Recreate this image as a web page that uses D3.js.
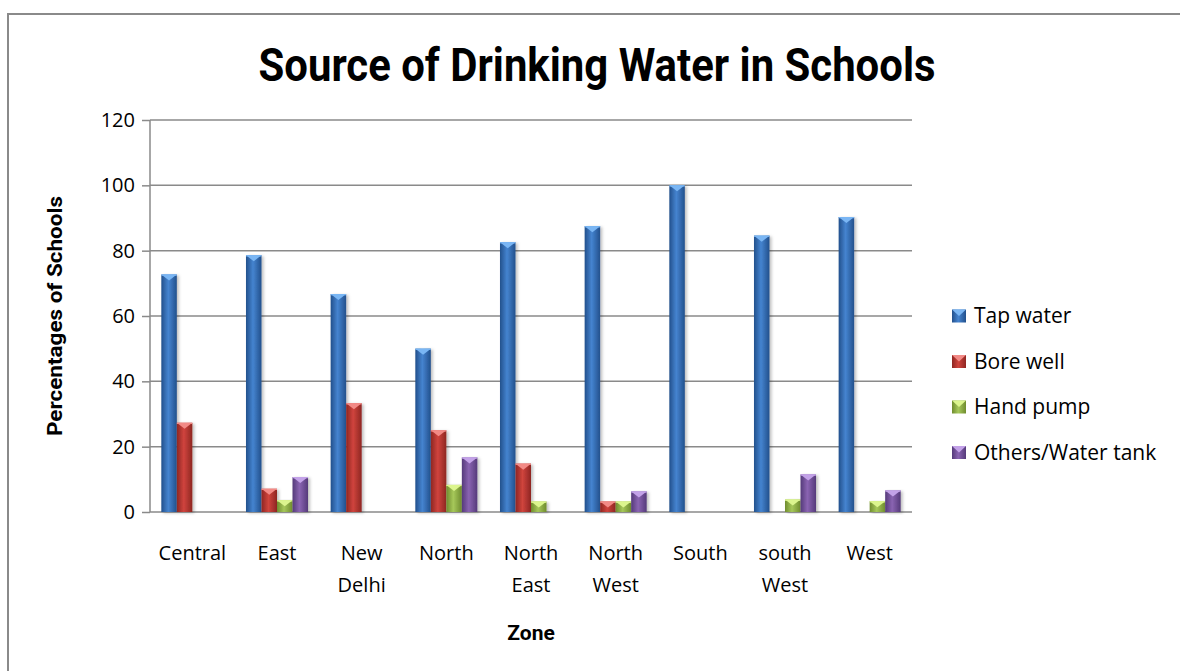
<!DOCTYPE html>
<html>
<head>
<meta charset="utf-8">
<script src="https://cdn.jsdelivr.net/npm/d3@7"></script>
<style>
  body { margin: 0; background: #fff; }
  text { font-family: "Open Sans", sans-serif; fill: #000; }
</style>
</head>
<body>
<svg width="1180" height="671"></svg>
<script>
// chart values
var zones = ["Central", "East", "New Delhi", "North", "North East", "North West", "South", "south West", "West"];
var seriesNames = ["Tap water", "Bore well", "Hand pump", "Others/Water tank"];
var tapWater = [72.7, 78.6, 66.7, 50, 82.6, 87.5, 100, 84.6, 90.3];
var boreWell = [27.3, 7.1, 33.3, 25, 14.8, 3.2, 0, 0, 0];
var handPump = [0, 3.6, 0, 8.3, 3.2, 3.2, 0, 3.8, 3.3];
var others = [0, 10.7, 0, 16.7, 0, 6.3, 0, 11.5, 6.6];
var yTicks = [0, 20, 40, 60, 80, 100, 120];

(function() {
  'use strict';
  var svg = d3.select("svg");
  var seriesValues = [tapWater, boreWell, handPump, others];
  var palette = [
    {edge: "#22508c", mid: "#4584d0", top: "#7ab6f4"},
    {edge: "#8e2622", mid: "#d0443d", top: "#f28a86"},
    {edge: "#6f8c2e", mid: "#a6c85a", top: "#dcf58e"},
    {edge: "#553a7a", mid: "#8a64b2", top: "#c3a2e8"}
  ];

  var plot = {left: 150, right: 912, top: 120, bottom: 512};

  // outer frame
  svg.append("rect")
    .attr("x", 8).attr("y", 14)
    .attr("width", 1300).attr("height", 800)
    .attr("fill", "none")
    .attr("stroke", "#8a8a8a")
    .attr("stroke-width", 2);

  var defs = svg.append("defs");
  palette.forEach(function(p, i) {
    var grad = defs.append("linearGradient")
      .attr("id", "grad" + i)
      .attr("x1", "0").attr("x2", "1").attr("y1", "0").attr("y2", "0");
    grad.append("stop").attr("offset", "0%").attr("stop-color", p.edge);
    grad.append("stop").attr("offset", "45%").attr("stop-color", p.mid);
    grad.append("stop").attr("offset", "100%").attr("stop-color", p.edge);
  });
  var shadow = defs.append("filter").attr("id", "shadow")
    .attr("x", "-20%").attr("y", "-5%").attr("width", "160%").attr("height", "115%");
  shadow.append("feDropShadow")
    .attr("dx", 2).attr("dy", 1).attr("stdDeviation", 1.5)
    .attr("flood-color", "#000").attr("flood-opacity", 0.25);

  var x0 = d3.scaleBand()
    .domain(zones)
    .range([plot.left, plot.right]);

  var x1 = d3.scaleBand()
    .domain(seriesNames)
    .range([0, x0.bandwidth()])
    .paddingOuter(0.73);

  var y = d3.scaleLinear()
    .domain([0, 120])
    .range([plot.bottom, plot.top]);

  // gridlines
  svg.append("g")
    .selectAll("line")
    .data(yTicks.slice(1))
    .enter().append("line")
      .attr("x1", plot.left).attr("x2", plot.right)
      .attr("y1", function(d) { return y(d); })
      .attr("y2", function(d) { return y(d); })
      .attr("stroke", "#8a8a8a")
      .attr("stroke-width", 1.5);

  // y axis
  var yAxis = svg.append("g")
    .attr("transform", "translate(" + plot.left + ",0)")
    .call(d3.axisLeft(y).tickValues(yTicks).tickSize(8).tickPadding(7));
  yAxis.selectAll("line, path").attr("stroke", "#8a8a8a").attr("stroke-width", 1.5);
  yAxis.select(".domain").attr("d", "M0," + plot.top + "V" + plot.bottom);
  yAxis.selectAll("text")
    .style("font-family", "'Open Sans', sans-serif")
    .style("font-size", "20px")
    .attr("fill", "#000");

  // x axis line
  svg.append("line")
    .attr("x1", plot.left).attr("x2", plot.right)
    .attr("y1", y(0)).attr("y2", y(0))
    .attr("stroke", "#8a8a8a")
    .attr("stroke-width", 1.5);

  // bars
  var bw = x1.bandwidth();
  var bars = [];
  zones.forEach(function(z, zi) {
    seriesNames.forEach(function(s, si) {
      var v = seriesValues[si][zi];
      if (v > 0) bars.push({zone: z, series: s, si: si, value: v});
    });
  });

  var barG = svg.append("g").selectAll("g")
    .data(bars)
    .enter().append("g")
      .attr("transform", function(d) {
        return "translate(" + (x0(d.zone) + x1(d.series)) + "," + y(d.value) + ")";
      });

  barG.append("rect")
    .attr("width", bw)
    .attr("height", function(d) { return y(0) - y(d.value); })
    .attr("fill", function(d) { return "url(#grad" + d.si + ")"; })
    .attr("filter", "url(#shadow)");

  barG.append("path")
    .attr("d", "M0,0H" + bw + "L" + (bw / 2) + "," + Math.min(6, bw / 2) + "Z")
    .attr("fill", function(d) { return palette[d.si].top; });

  barG.append("rect")
    .attr("width", bw)
    .attr("height", 1.2)
    .attr("fill", function(d) { return palette[d.si].top; });

  // x labels
  var xl = svg.append("g").selectAll("text")
    .data(zones)
    .enter().append("text")
      .attr("x", function(d) { return x0(d) + x0.bandwidth() / 2; })
      .attr("y", 560)
      .attr("text-anchor", "middle")
      .style("font-size", "20px");
  xl.selectAll("tspan")
    .data(function(d) { return d.split(" "); })
    .enter().append("tspan")
      .attr("x", function() { return d3.select(this.parentNode).attr("x"); })
      .attr("dy", function(d, i) { return i ? 32 : 0; })
      .text(function(d) { return d; });

  // titles
  svg.append("text")
    .attr("x", 597).attr("y", 81)
    .attr("text-anchor", "middle")
    .attr("textLength", 677)
    .attr("lengthAdjust", "spacingAndGlyphs")
    .style("font-family", "'Liberation Sans Narrow', 'Roboto', sans-serif")
    .style("font-weight", "bold")
    .style("font-size", "46px")
    .text("Source of Drinking Water in Schools");

  svg.append("text")
    .attr("transform", "translate(62," + ((plot.top + plot.bottom) / 2) + ") rotate(-90)")
    .attr("text-anchor", "middle")
    .attr("textLength", 240)
    .attr("lengthAdjust", "spacingAndGlyphs")
    .style("font-family", "'Liberation Sans Narrow', 'Roboto', sans-serif")
    .style("font-weight", "bold")
    .style("font-size", "21px")
    .text("Percentages of Schools");

  svg.append("text")
    .attr("x", (plot.left + plot.right) / 2).attr("y", 640)
    .attr("text-anchor", "middle")
    .style("font-family", "'Liberation Sans Narrow', 'Roboto', sans-serif")
    .style("font-weight", "bold")
    .style("font-size", "21px")
    .text("Zone");

  // legend
  var legend = svg.append("g").selectAll("g")
    .data(seriesNames)
    .enter().append("g")
      .attr("transform", function(d, i) { return "translate(952," + (316 + i * 45.5) + ")"; });

  legend.append("rect")
    .attr("y", -6.5)
    .attr("width", 14).attr("height", 13)
    .attr("fill", function(d, i) { return "url(#grad" + i + ")"; });
  legend.append("path")
    .attr("d", "M0,-6.5H14L7,0Z")
    .attr("fill", function(d, i) { return palette[i].top; });

  legend.append("text")
    .attr("x", 22)
    .attr("dy", "0.35em")
    .style("font-size", "21px")
    .text(function(d) { return d; });
}());
</script>
</body>
</html>
